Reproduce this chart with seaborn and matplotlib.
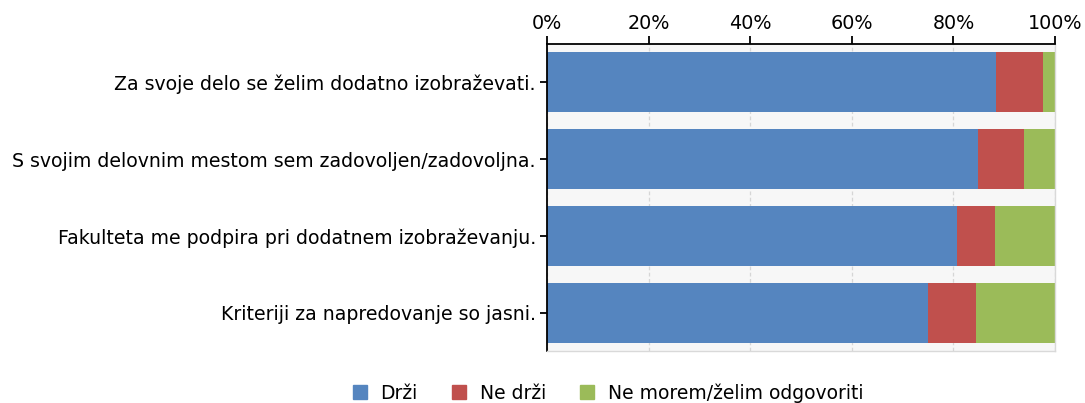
import matplotlib
matplotlib.use("Agg")
import matplotlib.pyplot as plt
from matplotlib.ticker import PercentFormatter
from matplotlib.lines import Line2D
import seaborn as sns
import pandas as pd
import numpy as np

categories = [
    "Za svoje delo se želim dodatno izobraževati.",
    "S svojim delovnim mestom sem zadovoljen/zadovoljna.",
    "Fakulteta me podpira pri dodatnem izobraževanju.",
    "Kriteriji za napredovanje so jasni.",
]
drzi = [88.4, 84.8, 80.7, 75.0]
ne_drzi = [9.2, 9.1, 7.5, 9.4]
ne_morem = [2.4, 6.1, 11.8, 15.6]
series_names = ["Drži", "Ne drži", "Ne morem/želim odgovoriti"]
colors = ["#5585BF", "#C0504D", "#9BBB59"]

sns.set_style("white")
plt.rcParams["font.family"] = ["DejaVu Sans"]
plt.rcParams["text.color"] = "black"
plt.rcParams["xtick.color"] = "black"
plt.rcParams["ytick.color"] = "black"

df = pd.DataFrame({"cat": categories, "a": drzi, "b": ne_drzi, "c": ne_morem})
df["cum_a"] = df["a"]
df["cum_b"] = df["a"] + df["b"]
df["cum_c"] = df["a"] + df["b"] + df["c"]

fig = plt.figure(figsize=(10.85, 4.03), dpi=100)
ax = fig.add_axes([547 / 1085, 1 - 351 / 403, 508 / 1085, 307 / 403])
ax.set_facecolor("#F7F7F7")

for col, color in zip(["cum_c", "cum_b", "cum_a"], colors[::-1]):
    sns.barplot(data=df, x=col, y="cat", orient="h", color=color,
                width=0.78, saturation=1, ax=ax, linewidth=0)

ax.set_xlim(0, 100)
ax.set_ylim(3.5, -0.5)
ax.xaxis.set_major_formatter(PercentFormatter(decimals=0))
ax.set_xticks([0, 20, 40, 60, 80, 100])
ax.xaxis.tick_top()
ax.set_xlabel("")
ax.set_ylabel("")
ax.grid(axis="x", color="#D6D6D6", linestyle=(0, (3, 2)), linewidth=0.9)
ax.set_axisbelow(True)

for s in ["top", "left"]:
    ax.spines[s].set_color("black")
    ax.spines[s].set_linewidth(1.3)
for s in ["right", "bottom"]:
    ax.spines[s].set_color("#D9D9D9")
    ax.spines[s].set_linewidth(1.0)

ax.tick_params(axis="x", which="major", direction="out", length=6, width=1.3,
               color="black", labelcolor="black", labelsize=13.8, pad=2,
               top=True, bottom=False)
ax.tick_params(axis="y", which="major", direction="out", length=5, width=1.3,
               color="black", labelcolor="black", labelsize=13.6, pad=3, left=True)

handles = [Line2D([0], [0], marker="s", linestyle="", markersize=9.5,
                  markerfacecolor=c, markeredgecolor=c) for c in colors]
fig.legend(handles, series_names, loc="center", bbox_to_anchor=(607 / 1085, 1 - 393 / 403),
           ncol=3, frameon=False, fontsize=13.5, handletextpad=0.6, columnspacing=1.7,
           handlelength=1.0)

fig.savefig("out.png", dpi=100)
